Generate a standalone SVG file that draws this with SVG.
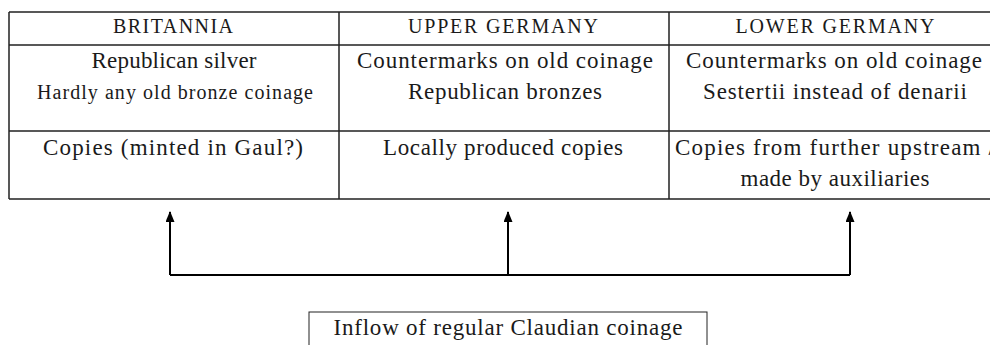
<svg xmlns="http://www.w3.org/2000/svg" width="990" height="345" viewBox="0 0 990 345">
<style>
.t{font-family:"Liberation Serif","DejaVu Serif",serif;fill:#1a1a1a;text-anchor:middle}
.h{font-size:20px}
.b{font-size:23px}
.s{font-size:20px}
.grid{stroke:#222;stroke-width:1.5;fill:none}
.conn{stroke:#000;stroke-width:2;fill:none}
</style>
<defs>
<marker id="arr" markerWidth="11" markerHeight="9" refX="10" refY="4.5" orient="auto" markerUnits="userSpaceOnUse" viewBox="0 0 11 9">
<path d="M0,0 L11,4.5 L0,9 Z" fill="#000"/>
</marker>
</defs>
<g id="table">
<path class="grid" d="M9,12 H1000 M9,45 H1000 M9,131 H1000 M9,199 H1000 M9,12 V199 M339,12 V199 M669,12 V199"/>
</g>
<g id="britannia">
<text class="t h" x="173" y="33" textLength="120" lengthAdjust="spacing">BRITANNIA</text>
<text class="t b" x="174" y="68" textLength="165" lengthAdjust="spacing">Republican silver</text>
<text class="t s" x="175" y="99" textLength="276" lengthAdjust="spacing">Hardly any old bronze coinage</text>
<text class="t b" x="173" y="155" textLength="260" lengthAdjust="spacing">Copies (minted in Gaul?)</text>
</g>
<g id="upper-germany">
<text class="t h" x="503" y="33" textLength="190" lengthAdjust="spacing">UPPER GERMANY</text>
<text class="t b" x="505" y="68" textLength="296" lengthAdjust="spacing">Countermarks on old coinage</text>
<text class="t b" x="505" y="99" textLength="194" lengthAdjust="spacing">Republican bronzes</text>
<text class="t b" x="503" y="155" textLength="240" lengthAdjust="spacing">Locally produced copies</text>
</g>
<g id="lower-germany">
<text class="t h" x="835" y="33" textLength="199" lengthAdjust="spacing">LOWER GERMANY</text>
<text class="t b" x="834" y="68" textLength="296" lengthAdjust="spacing">Countermarks on old coinage</text>
<text class="t b" x="835" y="99" textLength="264" lengthAdjust="spacing">Sestertii instead of denarii</text>
<text class="t b" x="835" y="155" textLength="320" lengthAdjust="spacing">Copies from further upstream /</text>
<text class="t b" x="835" y="186" textLength="189" lengthAdjust="spacing">made by auxiliaries</text>
</g>
<g id="inflow">
<rect x="309" y="312" width="398" height="40" fill="#fff" stroke="#222" stroke-width="1"/>
<text class="t b" x="508" y="335" textLength="349" lengthAdjust="spacing">Inflow of regular Claudian coinage</text>
</g>
<g id="connectors">
<path class="conn" d="M170,275 H850"/>
<line class="conn" x1="170" y1="275" x2="170" y2="212" marker-end="url(#arr)"/>
<line class="conn" x1="508" y1="275" x2="508" y2="212" marker-end="url(#arr)"/>
<line class="conn" x1="850" y1="275" x2="850" y2="212" marker-end="url(#arr)"/>
</g>
</svg>
